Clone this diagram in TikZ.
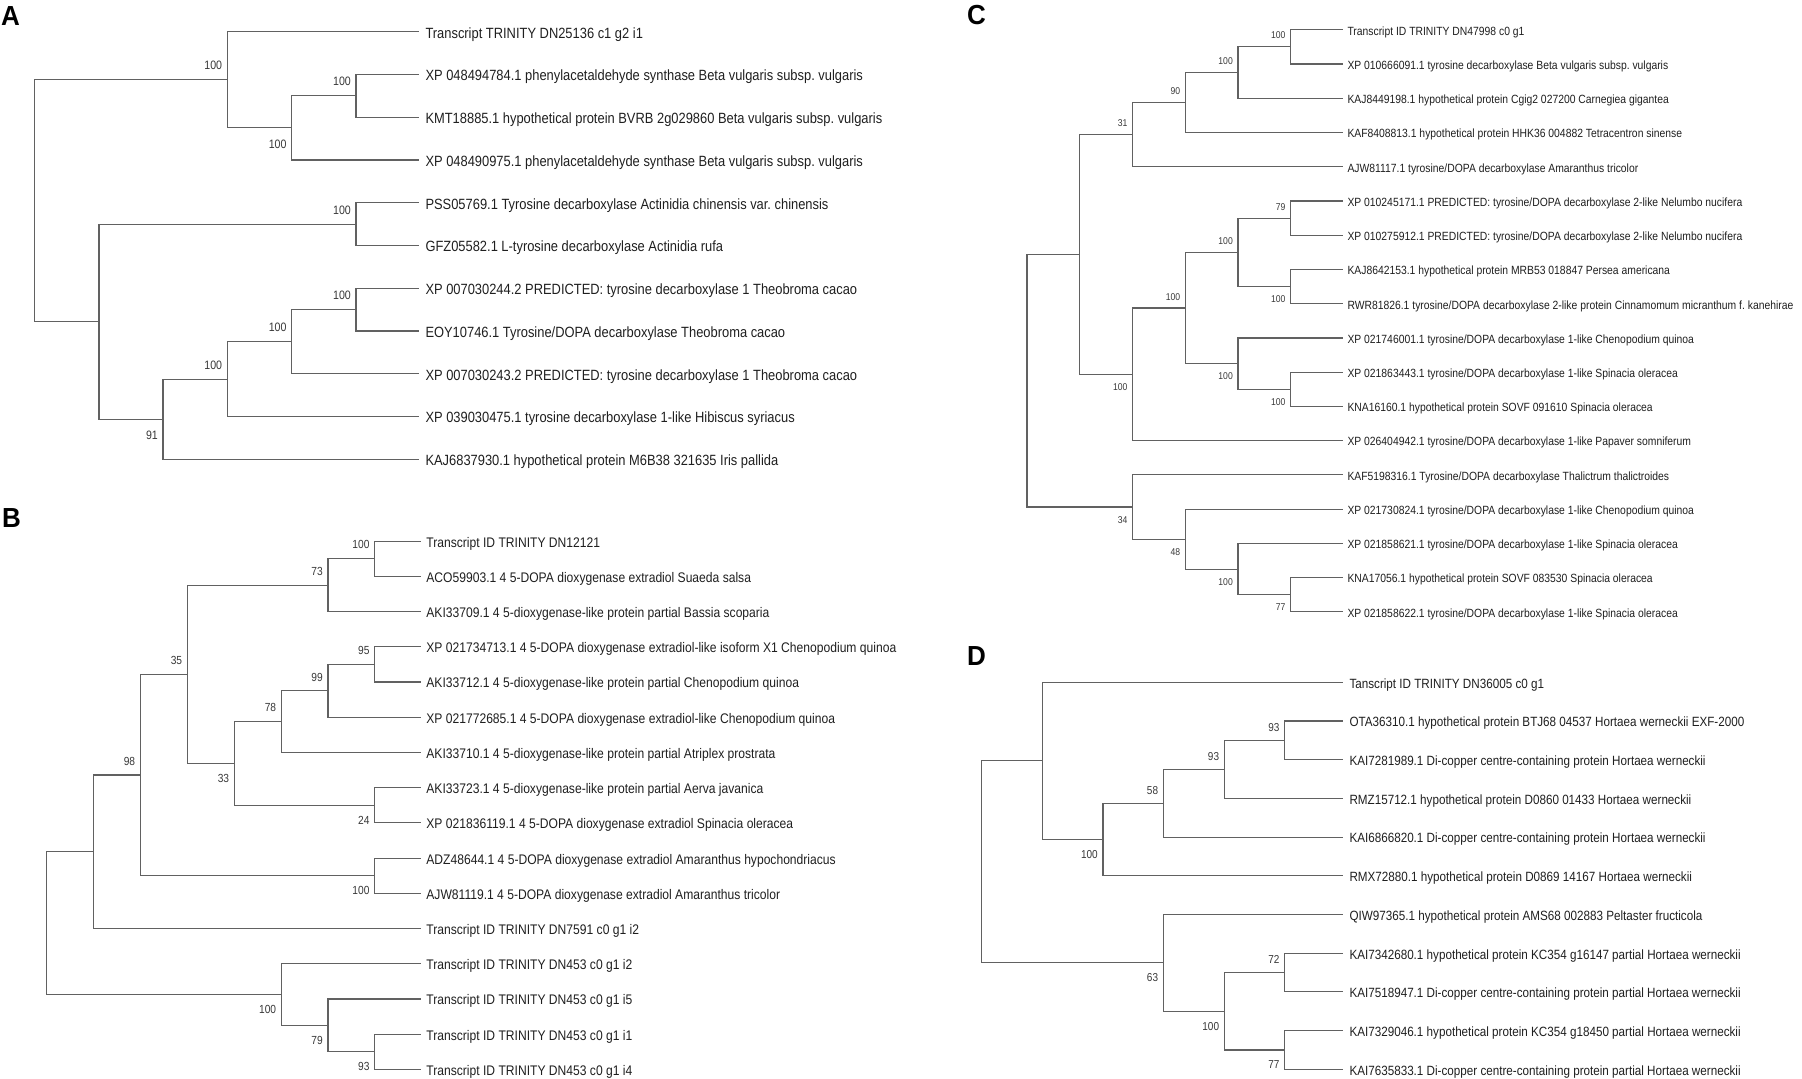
\documentclass[tikz,border=0pt]{standalone}
\usepackage{fontspec}
\setmainfont{Liberation Sans}
\frenchspacing
\tikzset{
    branch/.style = {
        draw = black!62,
        line width = 1.1pt
    },
    leaf/.style = {
        anchor = base west,
        inner ysep = 0pt,
        text = black!88
    },
    boot/.style = {
        anchor = east,
        inner sep = 0pt,
        xshift = -5pt,
        text = black!78
    },
    panel/.style = {
        anchor = base west,
        inner sep = 0pt,
        font = \fontsize{26}{26}\selectfont\bfseries
    }
}
\newcommand{\tallt}[1]{\scalebox{1}[1.15]{#1}}

\begin{document}
\begin{tikzpicture}[x = 1pt, y = -1pt]
    \useasboundingbox (0, 0) rectangle (1802, 1079);

    % Panel A
    \begin{scope}[
        leaf/.append style = {inner xsep = 6pt, yshift = -6.3pt, font = \fontsize{12.9}{14}\selectfont},
        bsup/.style = {boot, yshift = 14.3pt, font = \fontsize{10.6}{12}\selectfont},
        bsdown/.style = {boot, yshift = -16.5pt, font = \fontsize{10.6}{12}\selectfont}
    ]
    \def\ytop{31.7}
    \def\ystep{42.76}
    \node [panel] (labA) at (1, 25) {\scalebox{1}[1.06]{A}};

    \foreach \txt [count = \i from 0] in {
        Transcript TRINITY DN25136 c1 g2 i1,
        XP 048494784.1 phenylacetaldehyde synthase Beta vulgaris subsp. vulgaris,
        KMT18885.1 hypothetical protein BVRB 2g029860 Beta vulgaris subsp. vulgaris,
        XP 048490975.1 phenylacetaldehyde synthase Beta vulgaris subsp. vulgaris,
        PSS05769.1 Tyrosine decarboxylase Actinidia chinensis var. chinensis,
        GFZ05582.1 L-tyrosine decarboxylase Actinidia rufa,
        XP 007030244.2 PREDICTED: tyrosine decarboxylase 1 Theobroma cacao,
        EOY10746.1 Tyrosine/DOPA decarboxylase Theobroma cacao,
        XP 007030243.2 PREDICTED: tyrosine decarboxylase 1 Theobroma cacao,
        XP 039030475.1 tyrosine decarboxylase 1-like Hibiscus syriacus,
        KAJ6837930.1 hypothetical protein M6B38 321635 Iris pallida%
    }{
        \coordinate (tA\i) at (419.3, {\ytop + \ystep*\i});
        \node [leaf] (A\i) at (tA\i) {\tallt{\txt}};
    }

    % Inner nodes
    \coordinate (a12)    at (356,   {\ytop + \ystep*1.5});
    \coordinate (a123)   at (291.7, {\ytop + \ystep*2.25});
    \coordinate (a0to3)  at (227.3, {\ytop + \ystep*1.125});
    \coordinate (a45)    at (356,   {\ytop + \ystep*4.5});
    \coordinate (a67)    at (356,   {\ytop + \ystep*6.5});
    \coordinate (a678)   at (291.7, {\ytop + \ystep*7.25});
    \coordinate (a6to9)  at (227.3, {\ytop + \ystep*8.125});
    \coordinate (a6to10) at (163,   {\ytop + \ystep*9.0625});
    \coordinate (a4to10) at (99,    {\ytop + \ystep*6.78});
    \coordinate (aroot)  at (34.7,  {\ytop + \ystep*3.95});

    % Branches
    \draw [branch]
        (a12) |- (tA1) (a12) |- (tA2)
        (a123) |- (a12) (a123) |- (tA3)
        (a0to3) |- (tA0) (a0to3) |- (a123)
        (a45) |- (tA4) (a45) |- (tA5)
        (a67) |- (tA6) (a67) |- (tA7)
        (a678) |- (a67) (a678) |- (tA8)
        (a6to9) |- (a678) (a6to9) |- (tA9)
        (a6to10) |- (a6to9) (a6to10) |- (tA10)
        (a4to10) |- (a45) (a4to10) |- (a6to10)
        (aroot) |- (a0to3) (aroot) |- (a4to10)
    ;

    % Bootstrap values
    \node [bsup]   (a0to3v)  at (a0to3)  {\tallt{100}};
    \node [bsdown] (a123v)   at (a123)   {\tallt{100}};
    \node [bsup]   (a12v)    at (a12)    {\tallt{100}};
    \node [bsup]   (a45v)    at (a45)    {\tallt{100}};
    \node [bsup]   (a67v)    at (a67)    {\tallt{100}};
    \node [bsup]   (a678v)   at (a678)   {\tallt{100}};
    \node [bsup]   (a6to9v)  at (a6to9)  {\tallt{100}};
    \node [bsdown] (a6to10v) at (a6to10) {\tallt{91}};
    \end{scope}

    % Panel B
    \begin{scope}[
        leaf/.append style = {inner xsep = 5.5pt, yshift = -6pt, font = \fontsize{12.1}{14}\selectfont},
        bsup/.style = {boot, yshift = 13.8pt, font = \fontsize{10.2}{12}\selectfont},
        bsdown/.style = {boot, yshift = -15pt, font = \fontsize{10.2}{12}\selectfont}
    ]
    \def\ytop{541.1}
    \def\ystep{35.22}
    \node [panel] (labB) at (2, 527.8) {\scalebox{1}[1.06]{B}};

    \foreach \txt [count = \i from 0] in {
        Transcript ID TRINITY DN12121,
        ACO59903.1 4 5-DOPA dioxygenase extradiol Suaeda salsa,
        AKI33709.1 4 5-dioxygenase-like protein partial Bassia scoparia,
        XP 021734713.1 4 5-DOPA dioxygenase extradiol-like isoform X1 Chenopodium quinoa,
        AKI33712.1 4 5-dioxygenase-like protein partial Chenopodium quinoa,
        XP 021772685.1 4 5-DOPA dioxygenase extradiol-like Chenopodium quinoa,
        AKI33710.1 4 5-dioxygenase-like protein partial Atriplex prostrata,
        AKI33723.1 4 5-dioxygenase-like protein partial Aerva javanica,
        XP 021836119.1 4 5-DOPA dioxygenase extradiol Spinacia oleracea,
        ADZ48644.1 4 5-DOPA dioxygenase extradiol Amaranthus hypochondriacus,
        AJW81119.1 4 5-DOPA dioxygenase extradiol Amaranthus tricolor,
        Transcript ID TRINITY DN7591 c0 g1 i2,
        Transcript ID TRINITY DN453 c0 g1 i2,
        Transcript ID TRINITY DN453 c0 g1 i5,
        Transcript ID TRINITY DN453 c0 g1 i1,
        Transcript ID TRINITY DN453 c0 g1 i4%
    }{
        \coordinate (tB\i) at (420.7, {\ytop + \ystep*\i});
        \node [leaf] (B\i) at (tB\i) {\tallt{\txt}};
    }

    % Inner nodes
    \coordinate (b01)     at (374.7, {\ytop + \ystep*0.5});
    \coordinate (b012)    at (328,   {\ytop + \ystep*1.25});
    \coordinate (b34)     at (374.7, {\ytop + \ystep*3.5});
    \coordinate (b345)    at (328,   {\ytop + \ystep*4.25});
    \coordinate (b3to6)   at (281.3, {\ytop + \ystep*5.125});
    \coordinate (b78)     at (374.7, {\ytop + \ystep*7.5});
    \coordinate (b3to8)   at (234.3, {\ytop + \ystep*6.3125});
    \coordinate (b0to8)   at (187.3, {\ytop + \ystep*3.78});
    \coordinate (b910)    at (374.7, {\ytop + \ystep*9.5});
    \coordinate (b0to10)  at (140.3, {\ytop + \ystep*6.64});
    \coordinate (b0to11)  at (93.7,  {\ytop + \ystep*8.82});
    \coordinate (b1415)   at (374.7, {\ytop + \ystep*14.5});
    \coordinate (b13to15) at (328,   {\ytop + \ystep*13.75});
    \coordinate (b12to15) at (281.3, {\ytop + \ystep*12.875});
    \coordinate (broot)   at (46.7,  {\ytop + \ystep*10.85});

    % Branches
    \draw [branch]
        (b01) |- (tB0) (b01) |- (tB1)
        (b012) |- (b01) (b012) |- (tB2)
        (b34) |- (tB3) (b34) |- (tB4)
        (b345) |- (b34) (b345) |- (tB5)
        (b3to6) |- (b345) (b3to6) |- (tB6)
        (b78) |- (tB7) (b78) |- (tB8)
        (b3to8) |- (b3to6) (b3to8) |- (b78)
        (b0to8) |- (b012) (b0to8) |- (b3to8)
        (b910) |- (tB9) (b910) |- (tB10)
        (b0to10) |- (b0to8) (b0to10) |- (b910)
        (b0to11) |- (b0to10) (b0to11) |- (tB11)
        (b1415) |- (tB14) (b1415) |- (tB15)
        (b13to15) |- (tB13) (b13to15) |- (b1415)
        (b12to15) |- (tB12) (b12to15) |- (b13to15)
        (broot) |- (b0to11) (broot) |- (b12to15)
    ;

    % Bootstrap values
    \node [bsup]   (b01v)     at (b01)     {\tallt{100}};
    \node [bsup]   (b012v)    at (b012)    {\tallt{73}};
    \node [bsup]   (b34v)     at (b34)     {\tallt{95}};
    \node [bsup]   (b345v)    at (b345)    {\tallt{99}};
    \node [bsup]   (b3to6v)   at (b3to6)   {\tallt{78}};
    \node [bsdown] (b78v)     at (b78)     {\tallt{24}};
    \node [bsdown] (b3to8v)   at (b3to8)   {\tallt{33}};
    \node [bsup]   (b0to8v)   at (b0to8)   {\tallt{35}};
    \node [bsdown] (b910v)    at (b910)    {\tallt{100}};
    \node [bsup]   (b0to10v)  at (b0to10)  {\tallt{98}};
    \node [bsdown] (b1415v)   at (b1415)   {\tallt{93}};
    \node [bsdown] (b13to15v) at (b13to15) {\tallt{79}};
    \node [bsdown] (b12to15v) at (b12to15) {\tallt{100}};
    \end{scope}

    % Panel C
    \begin{scope}[
        leaf/.append style = {inner xsep = 4pt, yshift = -5.3pt, font = \fontsize{10.36}{12}\selectfont},
        bsup/.style = {boot, yshift = 11.4pt, font = \fontsize{8.6}{10}\selectfont},
        bsdown/.style = {boot, yshift = -12.7pt, font = \fontsize{8.6}{10}\selectfont}
    ]
    \def\ytop{29.8}
    \def\ystep{34.24}
    \node [panel] (labC) at (967, 24.5) {\scalebox{1}[1.06]{C}};

    \foreach \txt [count = \i from 0] in {
        Transcript ID TRINITY DN47998 c0 g1,
        XP 010666091.1 tyrosine decarboxylase Beta vulgaris subsp. vulgaris,
        KAJ8449198.1 hypothetical protein Cgig2 027200 Carnegiea gigantea,
        KAF8408813.1 hypothetical protein HHK36 004882 Tetracentron sinense,
        AJW81117.1 tyrosine/DOPA decarboxylase Amaranthus tricolor,
        XP 010245171.1 PREDICTED: tyrosine/DOPA decarboxylase 2-like Nelumbo nucifera,
        XP 010275912.1 PREDICTED: tyrosine/DOPA decarboxylase 2-like Nelumbo nucifera,
        KAJ8642153.1 hypothetical protein MRB53 018847 Persea americana,
        RWR81826.1 tyrosine/DOPA decarboxylase 2-like protein Cinnamomum micranthum f. kanehirae,
        XP 021746001.1 tyrosine/DOPA decarboxylase 1-like Chenopodium quinoa,
        XP 021863443.1 tyrosine/DOPA decarboxylase 1-like Spinacia oleracea,
        KNA16160.1 hypothetical protein SOVF 091610 Spinacia oleracea,
        XP 026404942.1 tyrosine/DOPA decarboxylase 1-like Papaver somniferum,
        KAF5198316.1 Tyrosine/DOPA decarboxylase Thalictrum thalictroides,
        XP 021730824.1 tyrosine/DOPA decarboxylase 1-like Chenopodium quinoa,
        XP 021858621.1 tyrosine/DOPA decarboxylase 1-like Spinacia oleracea,
        KNA17056.1 hypothetical protein SOVF 083530 Spinacia oleracea,
        XP 021858622.1 tyrosine/DOPA decarboxylase 1-like Spinacia oleracea%
    }{
        \coordinate (tC\i) at (1343.3, {\ytop + \ystep*\i});
        \node [leaf] (C\i) at (tC\i) {\tallt{\txt}};
    }

    % Inner nodes
    \coordinate (c01)     at (1290.7, {\ytop + \ystep*0.5});
    \coordinate (c012)    at (1238,   {\ytop + \ystep*1.25});
    \coordinate (c0to3)   at (1185.3, {\ytop + \ystep*2.125});
    \coordinate (c0to4)   at (1132.7, {\ytop + \ystep*3.0625});
    \coordinate (c56)     at (1290.7, {\ytop + \ystep*5.5});
    \coordinate (c78)     at (1290.7, {\ytop + \ystep*7.5});
    \coordinate (c5to8)   at (1238,   {\ytop + \ystep*6.5});
    \coordinate (c1011)   at (1290.7, {\ytop + \ystep*10.5});
    \coordinate (c9to11)  at (1238,   {\ytop + \ystep*9.75});
    \coordinate (c5to11)  at (1185.3, {\ytop + \ystep*8.125});
    \coordinate (c5to12)  at (1132.7, {\ytop + \ystep*10.0625});
    \coordinate (c0to12)  at (1079.7, {\ytop + \ystep*6.5625});
    \coordinate (c1617)   at (1290.7, {\ytop + \ystep*16.5});
    \coordinate (c15to17) at (1238,   {\ytop + \ystep*15.75});
    \coordinate (c14to17) at (1185.3, {\ytop + \ystep*14.875});
    \coordinate (c13to17) at (1132.7, {\ytop + \ystep*13.9375});
    \coordinate (croot)   at (1027,   {\ytop + \ystep*10.25});

    % Branches
    \draw [branch]
        (c01) |- (tC0) (c01) |- (tC1)
        (c012) |- (c01) (c012) |- (tC2)
        (c0to3) |- (c012) (c0to3) |- (tC3)
        (c0to4) |- (c0to3) (c0to4) |- (tC4)
        (c56) |- (tC5) (c56) |- (tC6)
        (c78) |- (tC7) (c78) |- (tC8)
        (c5to8) |- (c56) (c5to8) |- (c78)
        (c1011) |- (tC10) (c1011) |- (tC11)
        (c9to11) |- (tC9) (c9to11) |- (c1011)
        (c5to11) |- (c5to8) (c5to11) |- (c9to11)
        (c5to12) |- (c5to11) (c5to12) |- (tC12)
        (c0to12) |- (c0to4) (c0to12) |- (c5to12)
        (c1617) |- (tC16) (c1617) |- (tC17)
        (c15to17) |- (tC15) (c15to17) |- (c1617)
        (c14to17) |- (tC14) (c14to17) |- (c15to17)
        (c13to17) |- (tC13) (c13to17) |- (c14to17)
        (croot) |- (c0to12) (croot) |- (c13to17)
    ;

    % Bootstrap values
    \node [bsup]   (c01v)     at (c01)     {\tallt{100}};
    \node [bsup]   (c012v)    at (c012)    {\tallt{100}};
    \node [bsup]   (c0to3v)   at (c0to3)   {\tallt{90}};
    \node [bsup]   (c0to4v)   at (c0to4)   {\tallt{31}};
    \node [bsup]   (c56v)     at (c56)     {\tallt{79}};
    \node [bsdown] (c78v)     at (c78)     {\tallt{100}};
    \node [bsup]   (c5to8v)   at (c5to8)   {\tallt{100}};
    \node [bsdown] (c1011v)   at (c1011)   {\tallt{100}};
    \node [bsdown] (c9to11v)  at (c9to11)  {\tallt{100}};
    \node [bsup]   (c5to11v)  at (c5to11)  {\tallt{100}};
    \node [bsdown] (c5to12v)  at (c5to12)  {\tallt{100}};
    \node [bsdown] (c1617v)   at (c1617)   {\tallt{77}};
    \node [bsdown] (c15to17v) at (c15to17) {\tallt{100}};
    \node [bsdown] (c14to17v) at (c14to17) {\tallt{48}};
    \node [bsdown] (c13to17v) at (c13to17) {\tallt{34}};
    \end{scope}

    % Panel D
    \begin{scope}[
        leaf/.append style = {inner xsep = 6pt, yshift = -5.8pt, font = \fontsize{11.67}{13}\selectfont},
        bsup/.style = {boot, yshift = 12.8pt, font = \fontsize{10}{12}\selectfont},
        bsdown/.style = {boot, yshift = -14.9pt, font = \fontsize{10}{12}\selectfont}
    ]
    \def\ytop{682.3}
    \def\ystep{38.7}
    \node [panel] (labD) at (967, 665) {\scalebox{1}[1.06]{D}};

    \foreach \txt [count = \i from 0] in {
        Tanscript ID TRINITY DN36005 c0 g1,
        OTA36310.1 hypothetical protein BTJ68 04537 Hortaea werneckii EXF-2000,
        KAI7281989.1 Di-copper centre-containing protein Hortaea werneckii,
        RMZ15712.1 hypothetical protein D0860 01433 Hortaea werneckii,
        KAI6866820.1 Di-copper centre-containing protein Hortaea werneckii,
        RMX72880.1 hypothetical protein D0869 14167 Hortaea werneckii,
        QIW97365.1 hypothetical protein AMS68 002883 Peltaster fructicola,
        KAI7342680.1 hypothetical protein KC354 g16147 partial Hortaea werneckii,
        KAI7518947.1 Di-copper centre-containing protein partial Hortaea werneckii,
        KAI7329046.1 hypothetical protein KC354 g18450 partial Hortaea werneckii,
        KAI7635833.1 Di-copper centre-containing protein partial Hortaea werneckii%
    }{
        \coordinate (tD\i) at (1343.3, {\ytop + \ystep*\i});
        \node [leaf] (D\i) at (tD\i) {\tallt{\txt}};
    }

    % Inner nodes
    \coordinate (d12)    at (1284.7, {\ytop + \ystep*1.5});
    \coordinate (d123)   at (1224.3, {\ytop + \ystep*2.25});
    \coordinate (d1to4)  at (1163.3, {\ytop + \ystep*3.125});
    \coordinate (d1to5)  at (1103,   {\ytop + \ystep*4.0625});
    \coordinate (d0to5)  at (1042.3, {\ytop + \ystep*2.03});
    \coordinate (d78)    at (1284.7, {\ytop + \ystep*7.5});
    \coordinate (d910)   at (1284.7, {\ytop + \ystep*9.5});
    \coordinate (d7to10) at (1224.3, {\ytop + \ystep*8.5});
    \coordinate (d6to10) at (1163.3, {\ytop + \ystep*7.25});
    \coordinate (droot)  at (981.7,  {\ytop + \ystep*4.64});

    % Branches
    \draw [branch]
        (d12) |- (tD1) (d12) |- (tD2)
        (d123) |- (d12) (d123) |- (tD3)
        (d1to4) |- (d123) (d1to4) |- (tD4)
        (d1to5) |- (d1to4) (d1to5) |- (tD5)
        (d0to5) |- (tD0) (d0to5) |- (d1to5)
        (d78) |- (tD7) (d78) |- (tD8)
        (d910) |- (tD9) (d910) |- (tD10)
        (d7to10) |- (d78) (d7to10) |- (d910)
        (d6to10) |- (tD6) (d6to10) |- (d7to10)
        (droot) |- (d0to5) (droot) |- (d6to10)
    ;

    % Bootstrap values
    \node [bsup]   (d12v)    at (d12)    {\tallt{93}};
    \node [bsup]   (d123v)   at (d123)   {\tallt{93}};
    \node [bsup]   (d1to4v)  at (d1to4)  {\tallt{58}};
    \node [bsdown] (d1to5v)  at (d1to5)  {\tallt{100}};
    \node [bsup]   (d78v)    at (d78)    {\tallt{72}};
    \node [bsdown] (d910v)   at (d910)   {\tallt{77}};
    \node [bsdown] (d7to10v) at (d7to10) {\tallt{100}};
    \node [bsdown] (d6to10v) at (d6to10) {\tallt{63}};
    \end{scope}

\end{tikzpicture}
\end{document}
